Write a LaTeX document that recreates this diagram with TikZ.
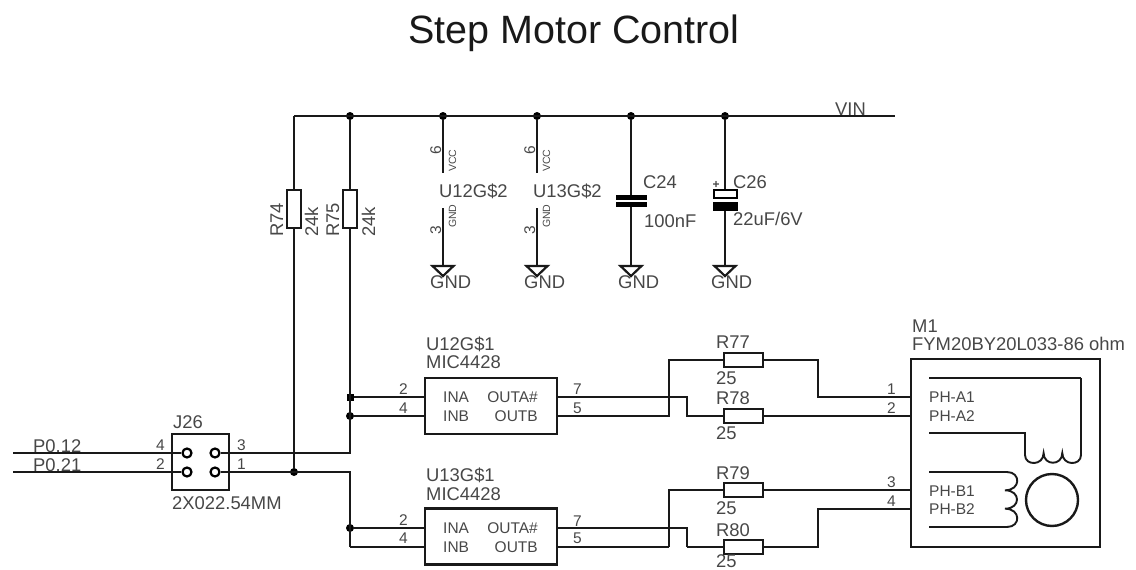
\documentclass[tikz,border=0pt]{standalone}
\usepackage{fontspec}
\setmainfont{Liberation Sans}
\def\fsize#1{\fontsize{#1}{#1}\selectfont}
\tikzset{
	wire/.style={line width=1.9pt, color=black!90, line join=miter},
	thinwire/.style={line width=1.4pt, color=black!90},
	res/.style={draw=black!90, fill=white, line width=2.2pt, inner sep=0pt, outer sep=0pt, minimum width=39pt, minimum height=14pt},
	vres/.style={res, minimum width=14pt, minimum height=38pt},
	chip/.style={draw=black!90, line width=2.2pt, inner sep=0pt, outer sep=0pt, minimum width=132pt, minimum height=56pt},
	lab/.style={inner sep=0pt, anchor=base west, text=black!72, font=\fsize{18.4}},
	pinlab/.style={lab, font=\fsize{15.5}},
	tinylab/.style={lab, font=\fsize{10.5}},
	dot/.style={circle, fill=black, inner sep=0pt, minimum size=8pt},
	dotsq/.style={rectangle, fill=black, inner sep=0pt, minimum size=7pt},
	pad/.style={circle, draw=black, line width=2.2pt, fill=white, inner sep=0pt, minimum size=9pt}
}
\def\gndsym(#1,#2){\draw[line width=2.2pt, color=black!90] (#1-10.5, #2) -- (#1+10.5, #2) -- (#1, #2+10) -- cycle;}
\begin{document}
\begin{tikzpicture}[x=1pt, y=-1pt]
	\useasboundingbox (0, 0) rectangle (1136, 570);
	%%%%% TITLE %%%%%
	\node[lab, font=\fsize{39.5}, text=black!90] (title) at (408, 43) {Step Motor Control};

	%%%%% SUPPLY %%%%%
	\coordinate (vinl) at (294, 116);
	\coordinate (vinr) at (895, 116);
	\node[dot] (j75) at (350, 116) {};
	\node[dot] (j12) at (443, 116) {};
	\node[dot] (j13) at (537, 116) {};
	\node[dot] (j24) at (631, 116) {};
	\node[dot] (j26) at (725, 116) {};
	\draw[wire] (vinl) -- (vinr);
	\node[lab] (vin) at (835, 115) {VIN};

	\node[vres] (r74) at (294, 209) {};
	\node[vres] (r75) at (350, 209) {};
	\node[lab, rotate=90] (r74n) at (283, 237) {R74};
	\node[lab, rotate=90] (r74v) at (318, 237) {24k};
	\node[lab, rotate=90] (r75n) at (339, 237) {R75};
	\node[lab, rotate=90] (r75v) at (375, 237) {24k};
	\draw[wire] (vinl) -- (r74.north);
	\draw[wire] (j75) -- (r75.north);

	%%%%% GATE SUPPLY PINS %%%%%
	\coordinate (u12v) at (443, 173);
	\coordinate (u12g) at (443, 208);
	\coordinate (u13v) at (537, 173);
	\coordinate (u13g) at (537, 208);
	\coordinate (g12) at (443, 266);
	\coordinate (g13) at (537, 266);
	\coordinate (g24) at (631, 266);
	\coordinate (g26) at (725, 266);
	\draw[wire] (j12) -- (u12v);
	\draw[wire] (u12g) -- (g12);
	\draw[wire] (j13) -- (u13v);
	\draw[wire] (u13g) -- (g13);
	\node[pinlab, rotate=90] (p6a) at (441, 155) {6};
	\node[pinlab, rotate=90] (p3a) at (441, 235) {3};
	\node[pinlab, rotate=90] (p6b) at (535, 155) {6};
	\node[pinlab, rotate=90] (p3b) at (535, 235) {3};
	\node[tinylab, rotate=90] (vcca) at (456, 172) {VCC};
	\node[tinylab, rotate=90] (gnda) at (456, 228) {GND};
	\node[tinylab, rotate=90] (vccb) at (550, 172) {VCC};
	\node[tinylab, rotate=90] (gndb) at (550, 228) {GND};
	\node[lab] (u12b) at (439, 197) {U12G\$2};
	\node[lab] (u13b) at (533, 197) {U13G\$2};

	%%%%% CAPACITORS %%%%%
	\draw[wire] (j24) -- (g24);
	\draw[wire] (j26) -- (g26);
	\draw[fill=black, draw=none] (616, 195) rectangle (647, 199.5);
	\draw[fill=black, draw=none] (616, 202) rectangle (647, 207);
	\fill[white] (618, 199.5) rectangle (645, 202);
	\draw[fill=white, draw=black, line width=2.4pt] (714, 190) rectangle (737, 198);
	\fill[white] (712, 199.2) rectangle (739, 201.8);
	\draw[fill=black, draw=none] (713, 202) rectangle (738, 211);
	\node[tinylab, font=\fsize{12}\bfseries] (plus) at (712.5, 188) {+};
	\node[lab] (c24) at (643, 188) {C24};
	\node[lab] (c24v) at (644, 227) {100nF};
	\node[lab] (c26) at (733, 188) {C26};
	\node[lab] (c26v) at (733, 225) {22uF/6V};

	%%%%% GROUND %%%%%
	\gndsym(443,266)
	\gndsym(537,266)
	\gndsym(631,266)
	\gndsym(725,266)
	\node[lab] (gnd1) at (430, 288) {GND};
	\node[lab] (gnd2) at (524, 288) {GND};
	\node[lab] (gnd3) at (618, 288) {GND};
	\node[lab] (gnd4) at (711, 288) {GND};

	%%%%% CONNECTOR %%%%%
	\node[draw=black!90, line width=2.6pt, inner sep=0pt, outer sep=0pt, minimum width=57pt, minimum height=56pt] (jbox) at (200.5, 462) {};
	\coordinate (p12) at (13, 453);
	\coordinate (p21) at (13, 472);
	\coordinate (jl4) at (172, 453);
	\coordinate (jl2) at (172, 472);
	\coordinate (jr3) at (229, 453);
	\coordinate (jr1) at (229, 472);
	\draw[wire] (p12) -- (jl4);
	\draw[wire] (p21) -- (jl2);
	\node[pad] (pad4) at (187, 453) {};
	\node[pad] (pad2) at (187, 472) {};
	\node[pad] (pad3) at (215, 453) {};
	\node[pad] (pad1) at (215, 472) {};
	\draw[wire] (jl4) -- (pad4);
	\draw[wire] (jl2) -- (pad2);
	\draw[wire] (jr3) -- (pad3);
	\draw[wire] (jr1) -- (pad1);
	\node[lab] (jname) at (173, 428) {J26};
	\node[lab] (jval) at (172, 509) {2X022.54MM};
	\node[lab] (n012) at (33, 452) {P0.12};
	\node[lab] (n021) at (33, 471) {P0.21};
	\node[pinlab] (jp4) at (156, 450) {4};
	\node[pinlab] (jp2) at (156, 469) {2};
	\node[pinlab] (jp3) at (237, 450) {3};
	\node[pinlab] (jp1) at (237, 469) {1};

	%%%%% DRIVERS %%%%%
	\node[chip] (u12) at (491, 406) {};
	\node[chip] (u13) at (491, 536.5) {};
	\node[dot] (ja) at (294, 472) {};
	\node[dotsq] (jb) at (350, 397) {};
	\node[dot] (jc) at (350, 416) {};
	\node[dot] (jd) at (350, 528) {};
	\coordinate (t3) at (350, 453);
	\coordinate (t1) at (350, 472);
	\coordinate (b1) at (350, 547);
	\coordinate (u12a) at (425, 397);
	\coordinate (u12i) at (425, 416);
	\coordinate (u13a) at (425, 528);
	\coordinate (u13i) at (425, 547);
	\draw[wire] (r74.south) -- (ja);
	\draw[wire] (r75.south) -- (t3) -- (jr3);
	\draw[wire] (jr1) -- (t1) -- (b1);
	\draw[wire] (jb) -- (u12a);
	\draw[wire] (jc) -- (u12i);
	\draw[wire] (jd) -- (u13a);
	\draw[thinwire] (b1) -- (u13i);
	\node[lab] (u12n) at (426, 350) {U12G\$1};
	\node[lab] (u12m) at (426, 368) {MIC4428};
	\node[lab] (u13n) at (426, 481) {U13G\$1};
	\node[lab] (u13m) at (426, 500) {MIC4428};
	\node[pinlab] (ina1) at (443, 402) {INA};
	\node[pinlab] (inb1) at (443, 421) {INB};
	\node[pinlab, anchor=base east] (oa1) at (538, 402) {OUTA\#};
	\node[pinlab, anchor=base east] (ob1) at (538, 421) {OUTB};
	\node[pinlab] (ina2) at (443, 533) {INA};
	\node[pinlab] (inb2) at (443, 552) {INB};
	\node[pinlab, anchor=base east] (oa2) at (538, 533) {OUTA\#};
	\node[pinlab, anchor=base east] (ob2) at (538, 552) {OUTB};
	\node[pinlab, anchor=base east] (u2) at (408, 394) {2};
	\node[pinlab, anchor=base east] (u4) at (408, 413) {4};
	\node[pinlab] (u7) at (573, 394) {7};
	\node[pinlab] (u5) at (573, 413) {5};
	\node[pinlab, anchor=base east] (v2) at (408, 525) {2};
	\node[pinlab, anchor=base east] (v4) at (408, 543) {4};
	\node[pinlab] (v7) at (573, 526) {7};
	\node[pinlab] (v5) at (573, 543) {5};

	%%%%% RESISTORS %%%%%
	\node[res] (r77) at (743.5, 360) {};
	\node[res] (r78) at (743.5, 416) {};
	\node[res] (r79) at (743.5, 490) {};
	\node[res] (r80) at (743.5, 547) {};
	\node[lab] (r77n) at (716, 348) {R77};
	\node[lab] (r77v) at (716, 384) {25};
	\node[lab] (r78n) at (716, 404) {R78};
	\node[lab] (r78v) at (716, 439) {25};
	\node[lab] (r79n) at (716, 479) {R79};
	\node[lab] (r79v) at (716, 514) {25};
	\node[lab] (r80n) at (716, 536) {R80};
	\node[lab] (r80v) at (716, 567) {25};
	\coordinate (o1a) at (557, 397);
	\coordinate (o1b) at (557, 416);
	\coordinate (o2a) at (557, 528);
	\coordinate (o2b) at (557, 547);
	\draw[wire] (o1a) -- (687, 397) -- (687, 416) -- (r78.west);
	\draw[wire] (o1b) -- (669, 416) -- (669, 360) -- (r77.west);
	\draw[wire] (o2a) -- (687, 528) -- (687, 547);
	\draw[thinwire] (687, 547) -- (r80.west);
	\draw[thinwire] (o2b) -- (669, 547);
	\draw[wire] (669, 547) -- (669, 490) -- (r79.west);

	%%%%% MOTOR %%%%%
	\node[draw=black!90, line width=2.8pt, inner sep=0pt, outer sep=0pt, minimum width=189pt, minimum height=188pt] (m1) at (1005.5, 453) {};
	\coordinate (m1p) at (911, 397);
	\coordinate (m2p) at (911, 416);
	\coordinate (m3p) at (911, 490);
	\coordinate (m4p) at (911, 509);
	\draw[wire] (r77.east) -- (818, 360) -- (818, 397) -- (m1p);
	\draw[wire] (r78.east) -- (m2p);
	\draw[wire] (r79.east) -- (m3p);
	\draw[wire] (r80.east) -- (818, 547) -- (818, 509) -- (m4p);
	\node[lab] (m1n) at (912, 332) {M1};
	\node[lab] (m1v) at (912, 350) {FYM20BY20L033-86 ohm};
	\node[pinlab] (pha1) at (929, 402) {PH-A1};
	\node[pinlab] (pha2) at (929, 421) {PH-A2};
	\node[pinlab] (phb1) at (929, 496) {PH-B1};
	\node[pinlab] (phb2) at (929, 514) {PH-B2};
	\node[pinlab] (mp1) at (887, 394) {1};
	\node[pinlab] (mp2) at (887, 413) {2};
	\node[pinlab] (mp3) at (887, 487) {3};
	\node[pinlab] (mp4) at (887, 506) {4};
	\draw[line width=2.6pt, color=black!90] (929, 378) -- (1081, 378);
	\draw[wire] (1081, 378) -- (1081, 455)
		.. controls (1081, 466) and (1062.3, 466) .. (1062.3, 453)
		.. controls (1062.3, 466) and (1043.6, 466) .. (1043.6, 453)
		.. controls (1043.6, 466) and (1025, 466) .. (1025, 455)
		-- (1025, 433) -- (929, 433);
	\draw[wire] (929, 472) -- (1007, 472)
		.. controls (1021, 472) and (1021, 490.3) .. (1005, 490.3)
		.. controls (1021, 490.3) and (1021, 508.7) .. (1005, 508.7)
		.. controls (1021, 508.7) and (1021, 527) .. (1007, 527);
	\draw[line width=2.6pt, color=black!90] (1007, 527) -- (929, 527);
	\node[circle, draw=black!90, line width=2.4pt, inner sep=0pt, minimum size=52pt] (rotor) at (1052, 500) {};
\end{tikzpicture}
\end{document}
